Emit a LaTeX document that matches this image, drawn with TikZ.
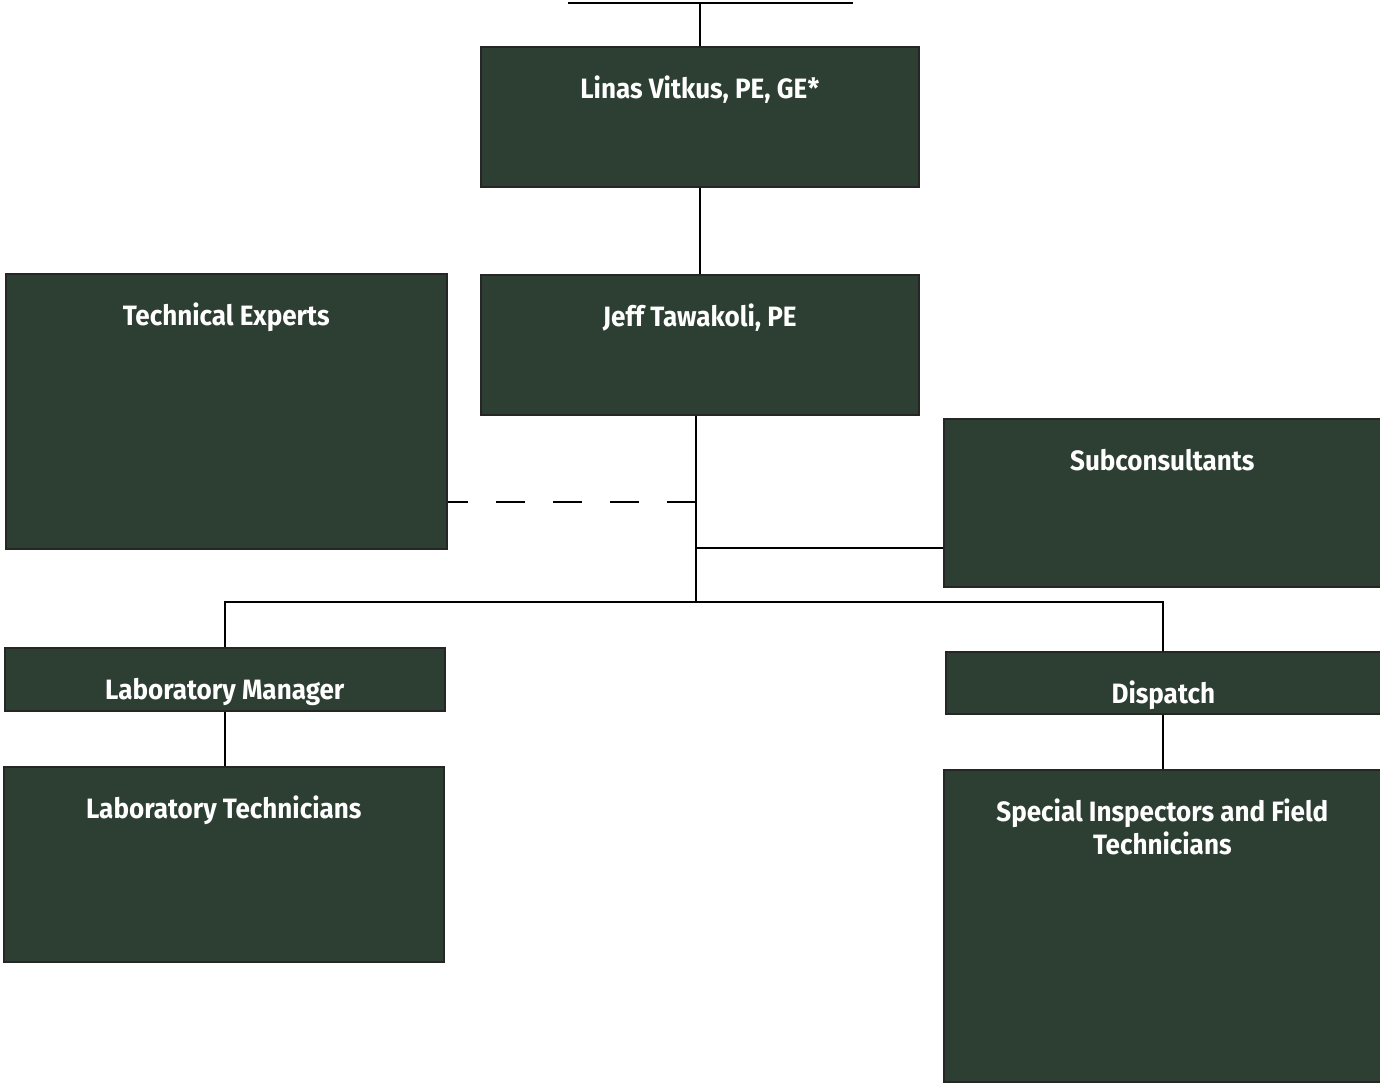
\documentclass[tikz,border=0pt]{standalone}
\usepackage{fontspec}
\setmainfont{Fira Sans}[FakeStretch=0.93]
\usetikzlibrary{positioning}
\definecolor{boxgreen}{RGB}{45,62,50}

\begin{document}
\begin{tikzpicture}[x=0.5pt,y=-0.5pt,
  orgbox/.style={draw=black!85,line width=0.8pt,fill=boxgreen,
   inner sep=0pt,anchor=north west},
  boxtext/.style={text=white,font=\bfseries\fontsize{14}{16.5}\selectfont,
   align=center,inner sep=0pt,anchor=base,yshift=-26pt},
  link/.style={black,line width=0.9pt}]

 \useasboundingbox (0,0) rectangle (1380,1083);

 % top row
 \node [orgbox, minimum width=219pt, minimum height=70pt,
  label={[boxtext]north:Linas Vitkus, PE, GE*}] (linas) at (480,46){};
 \node [orgbox, minimum width=219pt, minimum height=70pt,
  label={[boxtext]north:Jeff Tawakoli, PE}] (jeff) at (480,274){};
 \node [orgbox, minimum width=220.5pt, minimum height=137.5pt,
  label={[boxtext]north:Technical Experts}] (tech) at (5,273){};
 \node [orgbox, minimum width=218.5pt, minimum height=84pt,
  label={[boxtext]north:Subconsultants}] (subcon) at (943,418){};

 % bottom branches
 \node [orgbox, minimum width=220pt, minimum height=31.5pt,
  label={[boxtext]north:Laboratory Manager}] (labmgr) at (4,647){};
 \node [orgbox, minimum width=220pt, minimum height=97.5pt,
  label={[boxtext]north:Laboratory Technicians}] (labtech) at (3,766){};
 \node [orgbox, minimum width=217.5pt, minimum height=31pt,
  label={[boxtext]north:Dispatch}] (dispatch) at (945,651){};
 \node [orgbox, minimum width=218.5pt, minimum height=156pt,
  label={[boxtext,yshift=-16.5pt]north:Special Inspectors and Field\\Technicians}] (special) at (943,769){};

 % coordinates on the lines
 \coordinate (topl) at (568,3);
 \coordinate (topr) at (853,3);
 \coordinate (dashpt) at (696,502);
 \coordinate (subpt) at (696,548);
 \coordinate (buspt) at (696,602);

 \draw[link] (topl) -- (topr);
 \draw[link] (linas.north) -- (linas.north |- topl);
 \draw[link] (linas.south) -- (jeff.north);
 \draw[link] (jeff.south -| buspt) -- (buspt);
 \draw[link] (subpt) -- (subpt -| subcon.west);
 \draw[link,dash pattern=on 14.5pt off 14pt] (dashpt) -- (dashpt -| tech.east);
 \draw[link] (labmgr.north) |- (buspt) -| (dispatch.north);
 \draw[link] (labmgr.south) -- (labmgr.south |- labtech.north);
 \draw[link] (dispatch.south) -- (dispatch.south |- special.north);
\end{tikzpicture}
\end{document}
